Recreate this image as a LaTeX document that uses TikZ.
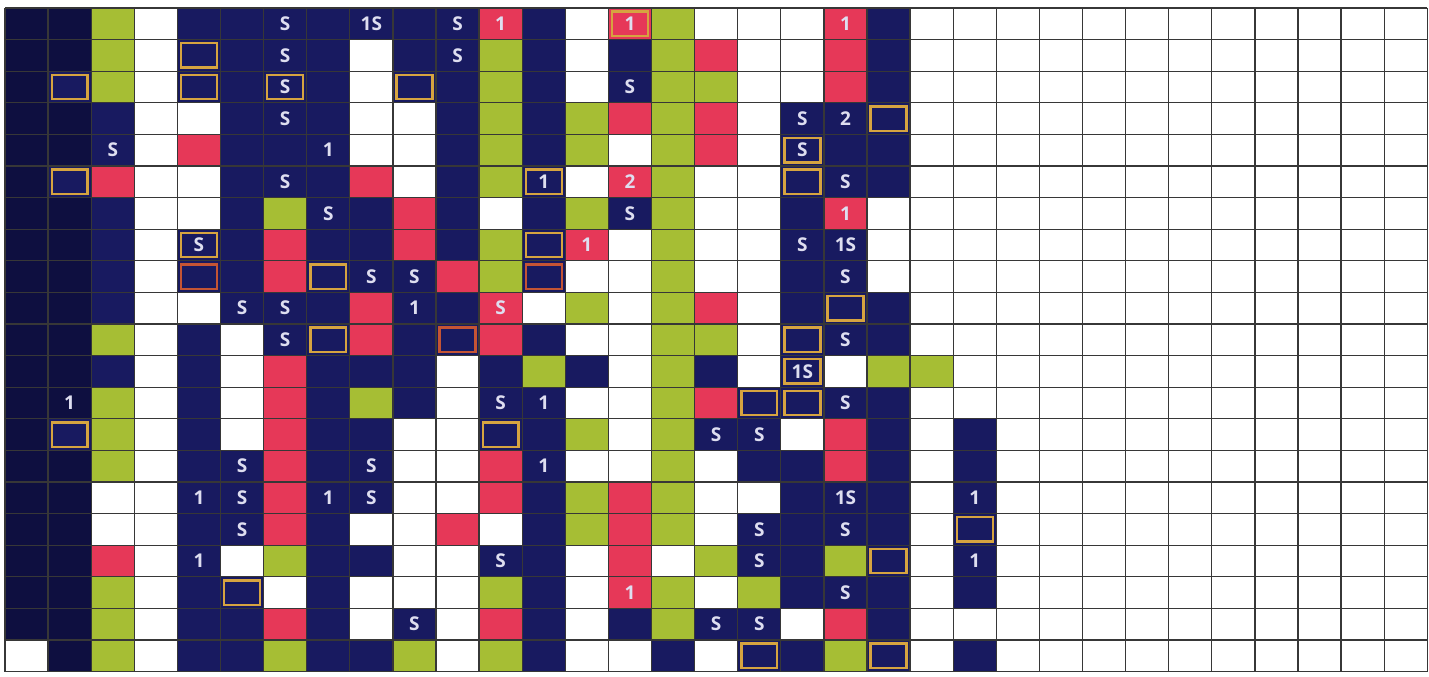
\documentclass[tikz,border=0pt]{standalone}
\usepackage{fontspec}
\setmainfont{Open Sans}
\definecolor{navy}{RGB}{24,26,96}
\definecolor{dnavy}{RGB}{14,15,64}
\definecolor{lgreen}{RGB}{166,190,52}
\definecolor{pred}{RGB}{230,56,88}
\definecolor{gold}{RGB}{214,164,64}
\definecolor{rust}{RGB}{196,84,52}
\definecolor{gline}{RGB}{55,55,55}
\definecolor{lbltext}{RGB}{222,222,240}
\tikzset{
  cellN/.style={fill=navy},
  cellD/.style={fill=dnavy},
  cellG/.style={fill=lgreen},
  cellR/.style={fill=pred},
  cellW/.style={fill=white},
  cellO/.style={fill=navy, path picture={\draw[gold, line width=2.4pt]
      ([shift={(3.6pt,-3.6pt)}]path picture bounding box.north west) rectangle
      ([shift={(-3.6pt,3.6pt)}]path picture bounding box.south east);}},
  cellP/.style={fill=navy, path picture={\draw[rust, line width=2.4pt]
      ([shift={(3.6pt,-3.6pt)}]path picture bounding box.north west) rectangle
      ([shift={(-3.6pt,3.6pt)}]path picture bounding box.south east);}},
  cellQ/.style={fill=pred, path picture={\draw[gold, line width=2.4pt]
      ([shift={(3.6pt,-3.6pt)}]path picture bounding box.north west) rectangle
      ([shift={(-3.6pt,3.6pt)}]path picture bounding box.south east);}},
  gridline/.style={draw=gline, line width=1.3pt},
  lbl/.style={text=lbltext, font=\fontsize{19}{19}\selectfont\bfseries, inner sep=0pt}
}
\begin{document}
\begin{tikzpicture}[x=1pt,y=-1pt]
\useasboundingbox (0,0) rectangle (1429,677);
\fill[white] (0,0) rectangle (1429,677);
\foreach \row [count=\r from 0] in {
{D,D,G,W,N,N,N,N,N,N,N,R,N,W,Q,G,W,W,W,R,N,W,W,W},
{D,D,G,W,O,N,N,N,W,N,N,G,N,W,N,G,R,W,W,R,N,W,W,W},
{D,O,G,W,O,N,O,N,W,O,N,G,N,W,N,G,G,W,W,R,N,W,W,W},
{D,D,N,W,W,N,N,N,W,W,N,G,N,G,R,G,R,W,N,N,O,W,W,W},
{D,D,N,W,R,N,N,N,W,W,N,G,N,G,W,G,R,W,O,N,N,W,W,W},
{D,O,R,W,W,N,N,N,R,W,N,G,O,W,R,G,W,W,O,N,N,W,W,W},
{D,D,N,W,W,N,G,N,N,R,N,W,N,G,N,G,W,W,N,R,W,W,W,W},
{D,D,N,W,O,N,R,N,N,R,N,G,O,R,W,G,W,W,N,N,W,W,W,W},
{D,D,N,W,P,N,R,O,N,N,R,G,P,W,W,G,W,W,N,N,W,W,W,W},
{D,D,N,W,W,N,N,N,R,N,N,R,W,G,W,G,R,W,N,O,N,W,W,W},
{D,D,G,W,N,W,N,O,R,N,P,R,N,W,W,G,G,W,O,N,N,W,W,W},
{D,D,N,W,N,W,R,N,N,N,W,N,G,N,W,G,N,W,O,W,G,G,W,W},
{D,D,G,W,N,W,R,N,G,N,W,N,N,W,W,G,R,O,O,N,N,W,W,W},
{D,O,G,W,N,W,R,N,N,W,W,O,N,G,W,G,N,N,W,R,N,W,N,W},
{D,D,G,W,N,N,R,N,N,W,W,R,N,W,W,G,W,N,N,R,N,W,N,W},
{D,D,W,W,N,N,R,N,N,W,W,R,N,G,R,G,W,W,N,N,N,W,N,W},
{D,D,W,W,N,N,R,N,W,W,R,W,N,G,R,G,W,N,N,N,N,W,O,W},
{D,D,R,W,N,W,G,N,N,W,W,N,N,W,R,W,G,N,N,G,O,W,N,W},
{D,D,G,W,N,O,W,N,W,W,W,G,N,W,R,G,W,G,N,N,N,W,N,W},
{D,D,G,W,N,N,R,N,W,N,W,R,N,W,N,G,N,N,W,R,N,W,W,W},
{W,D,G,W,N,N,G,N,N,G,W,G,N,W,W,N,W,O,N,G,O,W,N,W}} {
  \foreach \c [count=\k from 0] in \row {
    \path[cell\c] ({5+43.1*\k},{8+31.6*\r}) rectangle ++(43.1,31.6);
  }
}
\foreach \i in {0,...,33}
  \draw[gridline] ({5+43.1*\i},8) -- ({5+43.1*\i},{8+31.6*21});
\foreach \j in {0,...,21}
  \draw[gridline] (5,{8+31.6*\j}) -- ({5+43.1*33},{8+31.6*\j});
\foreach \k/\r/\t in {
 6/0/S, 8/0/1S, 10/0/S, 11/0/1, 14/0/1, 19/0/1,
 6/1/S, 10/1/S,
 6/2/S, 14/2/S,
 6/3/S, 18/3/S, 19/3/2,
 2/4/S, 7/4/1, 18/4/S,
 6/5/S, 12/5/1, 14/5/2, 19/5/S,
 7/6/S, 14/6/S, 19/6/1,
 4/7/S, 13/7/1, 18/7/S, 19/7/1S,
 8/8/S, 9/8/S, 19/8/S,
 5/9/S, 6/9/S, 9/9/1, 11/9/S,
 6/10/S, 19/10/S,
 18/11/1S,
 1/12/1, 11/12/S, 12/12/1, 19/12/S,
 16/13/S, 17/13/S,
 5/14/S, 8/14/S, 12/14/1,
 4/15/1, 5/15/S, 7/15/1, 8/15/S, 19/15/1S, 22/15/1,
 5/16/S, 17/16/S, 19/16/S,
 4/17/1, 11/17/S, 17/17/S, 22/17/1,
 14/18/1, 19/18/S,
 9/19/S, 16/19/S, 17/19/S}
 \node[lbl] (L\k-\r) at ({5+43.1*(\k+0.5)},{8+31.6*(\r+0.5)}) {\t};
\end{tikzpicture}
\end{document}
